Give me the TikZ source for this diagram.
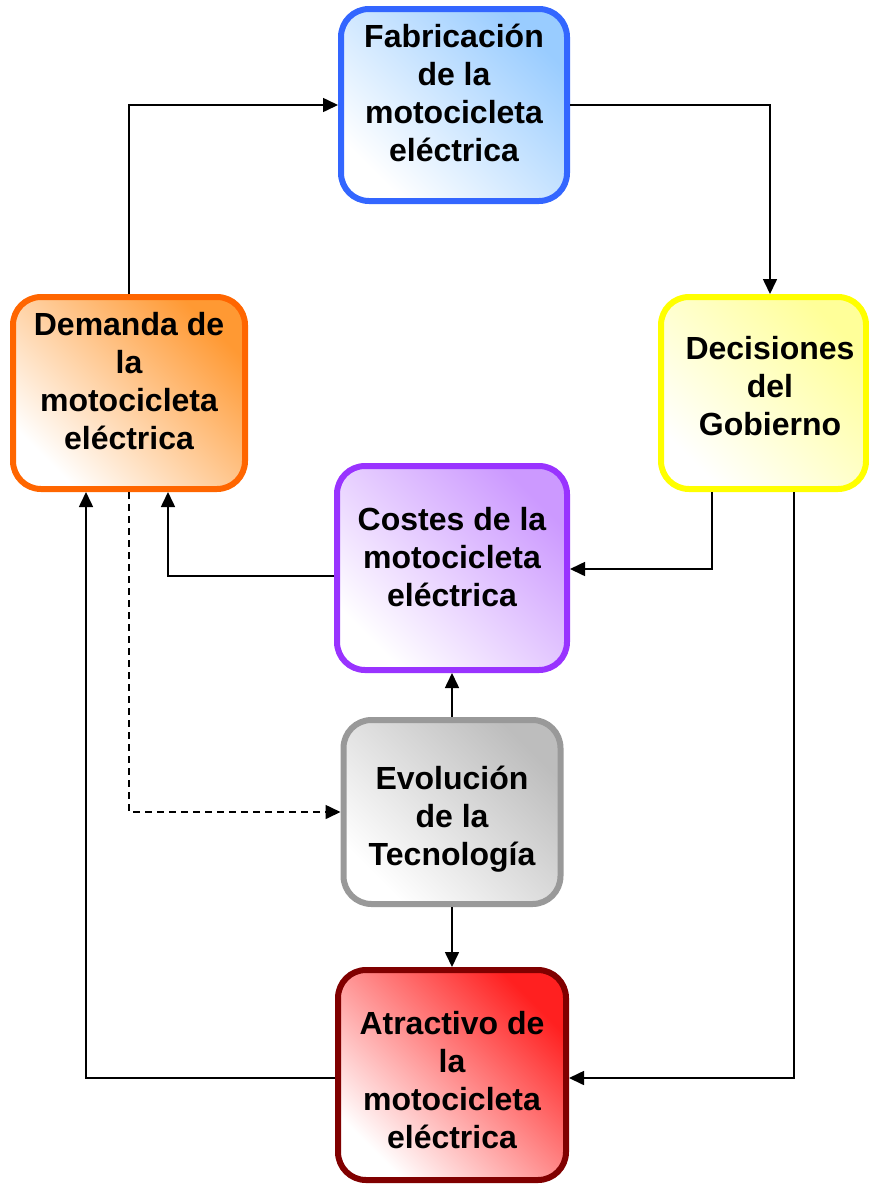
\documentclass[tikz,border=0pt]{standalone}
\usepackage{fontspec}
\setmainfont{Liberation Sans}
\usetikzlibrary{arrows.meta,calc}
\definecolor{fabB}{HTML}{3366FF}\definecolor{fabF}{HTML}{99CCFF}
\definecolor{demB}{HTML}{FF6600}\definecolor{demF}{HTML}{FF9933}
\definecolor{decB}{HTML}{FFFF00}\definecolor{decF}{HTML}{FFFF99}
\definecolor{cosB}{HTML}{9933FF}\definecolor{cosF}{HTML}{CC99FF}
\definecolor{evoB}{HTML}{999999}\definecolor{evoF}{HTML}{BDBDBD}
\definecolor{atrB}{HTML}{800000}\definecolor{atrF}{HTML}{FF2020}
\begin{document}
\begin{tikzpicture}[x=1pt,y=-1pt,
  box/.style={draw=#1B, line width=6pt, rounded corners=28pt, inner sep=0pt,
    top color=#1F, bottom color=white, shading angle=-45},
  lbl/.style={align=center, inner sep=0pt, font=\fontsize{32}{38}\selectfont\bfseries},
  arr/.style={line width=1.6pt, -{Triangle[length=15pt,width=14pt]}},
]
\useasboundingbox (0,0) rectangle (869,1184);
\clip (0,0) rectangle (869,1184);
% boxes
\node[box=fab, minimum width=226pt, minimum height=192pt] (fab) at (454,105) {};
\node[box=dem, minimum width=232pt, minimum height=192pt] (dem) at (129,393) {};
\node[box=dec, minimum width=205pt, minimum height=192pt] (dec) at (763.5,393) {};
\node[box=cos, minimum width=230pt, minimum height=204pt] (cos) at (452,568) {};
\node[box=evo, minimum width=217pt, minimum height=184pt] (evo) at (452,812) {};
\node[box=atr, minimum width=228pt, minimum height=210pt] (atr) at (452,1075) {};
% labels
\node[lbl] (fabt) at (454,93) {Fabricación\\de la\\motocicleta\\eléctrica};
\node[lbl] (demt) at (129,381) {Demanda de\\la\\motocicleta\\eléctrica};
\node[lbl] (dect) at (770,386.5) {Decisiones\\del\\Gobierno};
\node[lbl] (cost) at (452,557.5) {Costes de la\\motocicleta\\eléctrica};
\node[lbl] (evot) at (452,819) {Evolución\\de la\\Tecnología};
\node[lbl] (atrt) at (452,1080) {Atractivo de\\la\\motocicleta\\eléctrica};
% connectors
\draw[arr] (dem.north) |- (fab.west);
\draw[arr] (fab.east) -| ([xshift=6.5pt]dec.north);
\draw[arr] ([xshift=-51.5pt]dec.south) |- ([yshift=-1pt]cos.east);
\draw[arr] ([xshift=30.5pt]dec.south) |- ([yshift=-3pt]atr.east);
\draw[arr] ([yshift=-8pt]cos.west) -| ([xshift=39pt]dem.south);
\draw[arr] ([yshift=-3pt]atr.west) -| ([xshift=-43pt]dem.south);
\draw[arr] (evo.north) -- (cos.south);
\draw[arr] (evo.south) -- (atr.north);
\draw[arr, dash pattern=on 7pt off 5pt] (dem.south) |- (evo.west);
\end{tikzpicture}
\end{document}
